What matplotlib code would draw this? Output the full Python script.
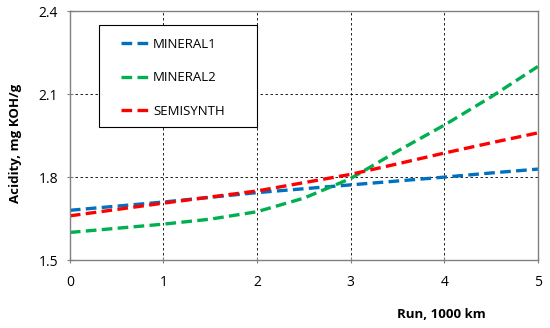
import matplotlib.pyplot as plt
from matplotlib.lines import Line2D
from matplotlib.patches import Rectangle

run = [0, 0.5, 1, 1.5, 2, 2.5, 3, 3.5, 4, 4.5, 5]
mineral1 = [1.68, 1.695, 1.71, 1.727, 1.744, 1.758, 1.772, 1.786, 1.80, 1.815, 1.829]
mineral2 = [1.60, 1.615, 1.63, 1.648, 1.675, 1.724, 1.795, 1.894, 1.988, 2.09, 2.20]
semisynth = [1.66, 1.683, 1.706, 1.728, 1.75, 1.78, 1.81, 1.848, 1.887, 1.924, 1.96]

series = [("MINERAL1", mineral1, "#0070C0"),
          ("MINERAL2", mineral2, "#00B050"),
          ("SEMISYNTH", semisynth, "#FF0000")]

plt.rcParams['font.family'] = ['Open Sans', 'DejaVu Sans']

fig = plt.figure(figsize=(5.5, 3.28), dpi=100)
ax = fig.add_axes([0.127, 0.207, 0.851, 0.759])

for name, vals, col in series:
    ax.plot(run, vals, color=col, lw=2.4, dashes=(3.2, 1.6), label=name)

ax.set_xlim(0, 5)
ax.set_ylim(1.5, 2.4)
ax.set_xticks([0, 1, 2, 3, 4, 5])
ax.set_yticks([1.5, 1.8, 2.1, 2.4])
ax.set_yticklabels(["1.5", "1.8", "2.1", "2.4"])
ax.grid(True, color="black", ls=(0, (3, 3)), lw=0.6)
ax.tick_params(direction="inout", length=5, width=0.8, color="#808080",
               labelsize=10)
ax.tick_params(axis="x", pad=8)
ax.tick_params(axis="y", pad=6)
for s in ax.spines.values():
    s.set_color("#808080")
    s.set_linewidth(1.0)

# legend frame drawn separately so the box can be wider than its content
ax.add_patch(Rectangle((0.062, 0.534), 0.338, 0.41, transform=ax.transAxes,
                       facecolor="white", edgecolor="black", lw=0.8, zorder=4))
handles = [Line2D([], [], color=c, lw=2.4, dashes=(3.2, 1.6)) for _, _, c in series]
leg = ax.legend(handles, [n for n, _, _ in series], loc="upper left",
                bbox_to_anchor=(0.109, 0.893), frameon=False,
                fontsize=9.5, handlelength=2.35,
                handletextpad=0.1, labelspacing=1.55, borderpad=0,
                borderaxespad=0)
leg.set_zorder(5)

fig.text(0.029, 0.564, "Acidity, mg KOH/g", rotation=90, ha="center", va="center",
         fontsize=9.5, fontweight="bold")
fig.text(0.803, 0.04, "Run, 1000 km", ha="center", va="center",
         fontsize=9.5, fontweight="bold")

fig.savefig("out.png", dpi=100)
